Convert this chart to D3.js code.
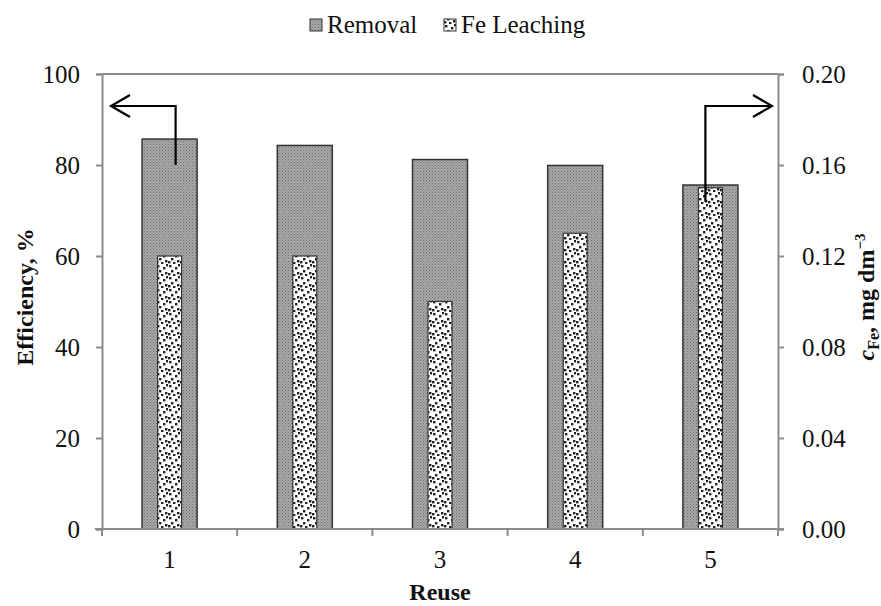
<!DOCTYPE html>
<html><head><meta charset="utf-8">
<script src="https://cdn.jsdelivr.net/npm/d3@7"></script>
<style>body{margin:0;background:#fff}svg{display:block}text{font-family:"Liberation Serif","Times New Roman",serif}</style>
</head><body>
<svg id="c" width="881" height="606"></svg>
<script>
const reuse = ["1","2","3","4","5"];
const removal = [85.7, 84.3, 81.2, 79.9, 75.6];
const feLeaching = [0.12, 0.12, 0.10, 0.13, 0.15];
const leftTicks = [0, 20, 40, 60, 80, 100];
const rightTicks = [0, 0.04, 0.08, 0.12, 0.16, 0.20];

const FONT = "Liberation Serif, Times New Roman, serif";
const svg = d3.select("#c");
const m = {l:102, r:778, t:74, b:529};

const x = d3.scaleBand().domain(reuse).range([m.l, m.r]).paddingInner(0).paddingOuter(0);
const yL = d3.scaleLinear().domain([0, 100]).range([m.b, m.t]);
const yR = d3.scaleLinear().domain([0, 0.20]).range([m.b, m.t]);

const defs = svg.append("defs");
// fine grey stipple for removal
const p1 = defs.append("pattern").attr("id","grey").attr("patternUnits","userSpaceOnUse").attr("width",3).attr("height",3);
p1.append("rect").attr("width",3).attr("height",3).attr("fill","#a8a8a8");
p1.append("rect").attr("width",1).attr("height",1).attr("fill","#707070");
p1.append("rect").attr("x",1.5).attr("y",1.5).attr("width",1).attr("height",1).attr("fill","#7c7c7c");
// dotted white for Fe leaching
const p2 = defs.append("pattern").attr("id","dots").attr("patternUnits","userSpaceOnUse").attr("width",12).attr("height",12);
p2.append("rect").attr("width",12).attr("height",12).attr("fill","#fff");
[[1,1],[7,3],[3,6],[9,8],[5,10],[0,9],[10,0]].forEach(([a,b])=>
  p2.append("rect").attr("x",a).attr("y",b).attr("width",2.4).attr("height",2.4).attr("fill","#222"));

const gray = "#8c8c8c";
// frame top line
svg.append("line").attr("x1",m.l).attr("x2",m.r).attr("y1",m.t).attr("y2",m.t).attr("stroke",gray).attr("stroke-width",2);

// bars
const bw = 55, fw = 24;
svg.append("g").selectAll("rect").data(reuse).join("rect")
  .attr("x",d=>x(d)+x.bandwidth()/2-bw/2).attr("width",bw)
  .attr("y",(d,i)=>yL(removal[i])).attr("height",(d,i)=>yL(0)-yL(removal[i]))
  .attr("fill","url(#grey)").attr("stroke","#333").attr("stroke-width",1.5);
svg.append("g").selectAll("rect").data(reuse).join("rect")
  .attr("x",d=>x(d)+x.bandwidth()/2-fw/2).attr("width",fw)
  .attr("y",(d,i)=>yR(feLeaching[i])).attr("height",(d,i)=>yR(0)-yR(feLeaching[i]))
  .attr("fill","url(#dots)").attr("stroke","#333").attr("stroke-width",1.2);

// axes
const axL = svg.append("g").attr("transform",`translate(${m.l},0)`)
  .call(d3.axisLeft(yL).tickValues(leftTicks).tickSize(6).tickPadding(16));
const axR = svg.append("g").attr("transform",`translate(${m.r},0)`)
  .call(d3.axisRight(yR).tickValues(rightTicks).tickSize(6).tickPadding(18).tickFormat(d3.format(".2f")));
const axB = svg.append("g").attr("transform",`translate(0,${m.b})`)
  .call(d3.axisBottom(x).tickSize(0).tickPadding(21));
[axL, axR, axB].forEach(a=>{
  a.attr("font-family",FONT);
  a.selectAll("path,line").attr("stroke",gray).attr("stroke-width",2);
  a.selectAll("text").attr("font-size",25).attr("fill","#111").attr("font-family",FONT);
});
axB.select(".domain").remove();
svg.append("line").attr("x1",m.l-7).attr("x2",m.r+6).attr("y1",m.b).attr("y2",m.b).attr("stroke",gray).attr("stroke-width",2);
// category separators on bottom axis
svg.append("g").selectAll("line").data(reuse.concat(["end"])).join("line")
  .attr("x1",(d,i)=>m.l+i*x.bandwidth()).attr("x2",(d,i)=>m.l+i*x.bandwidth())
  .attr("y1",m.b).attr("y2",m.b+7).attr("stroke",gray).attr("stroke-width",2);

// axis titles
svg.append("text").attr("transform","translate(33,297) rotate(-90)").attr("text-anchor","middle")
  .attr("font-family",FONT).attr("font-size",24).attr("font-weight","bold").attr("fill","#111").text("Efficiency, %");
const rt = svg.append("text").attr("transform","translate(874,297) rotate(-90)").attr("text-anchor","middle")
  .attr("font-family",FONT).attr("font-size",24).attr("font-weight","bold").attr("fill","#111");
rt.append("tspan").attr("font-style","italic").text("c");
rt.append("tspan").attr("font-size",16).attr("dy",5).text("Fe");
rt.append("tspan").attr("dy",-5).text(", mg dm");
rt.append("tspan").attr("font-size",15).attr("dy",-9).text("−3");
svg.append("text").attr("x",440).attr("y",600).attr("text-anchor","middle")
  .attr("font-family",FONT).attr("font-size",24).attr("font-weight","bold").attr("fill","#111").text("Reuse");

// legend
const lg = svg.append("g").attr("font-family",FONT);
lg.append("rect").attr("x",310).attr("y",19).attr("width",12).attr("height",12).attr("fill","url(#grey)").attr("stroke","#333").attr("stroke-width",1);
lg.append("text").attr("x",327).attr("y",33).attr("font-size",25).attr("fill","#111").text("Removal");
lg.append("rect").attr("x",444).attr("y",19).attr("width",12).attr("height",12).attr("fill","url(#dots)").attr("stroke","#333").attr("stroke-width",1);
lg.append("text").attr("x",461).attr("y",33).attr("font-size",25).attr("fill","#111").text("Fe Leaching");

// pointer arrows linking series to axes
const ay = 106;
const xa1 = x("1")+x.bandwidth()/2+6;
svg.append("path").attr("d",`M${xa1},${yL(removal[0])+26}V${ay}H${m.l+9}`)
  .attr("fill","none").attr("stroke","#000").attr("stroke-width",2.2);
svg.append("path").attr("d",`M${m.l+28},${ay-11}L${m.l+9},${ay}L${m.l+28},${ay+11}`)
  .attr("fill","none").attr("stroke","#000").attr("stroke-width",2.2);
const xa5 = x("5")+x.bandwidth()/2-5;
svg.append("path").attr("d",`M${xa5},${yR(feLeaching[4])+14}V${ay}H${m.r-6}`)
  .attr("fill","none").attr("stroke","#000").attr("stroke-width",2.2);
svg.append("path").attr("d",`M${m.r-25},${ay-11}L${m.r-6},${ay}L${m.r-25},${ay+11}`)
  .attr("fill","none").attr("stroke","#000").attr("stroke-width",2.2);
</script>
</body></html>
